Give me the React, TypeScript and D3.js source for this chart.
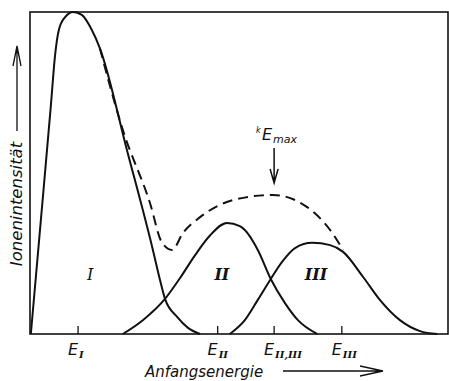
import React from "react";
import * as d3 from "d3";

// curve points as [energy, intensity], both on a 0..100 scale
const peakI: [number, number][] = [
  [0.2, 0], [2.6, 35.4], [5.0, 71.1], [6.0, 86.6], [6.9, 94.4], [8.4, 98.4],
  [10.3, 100], [12.4, 99.1], [14.8, 94.4], [16.7, 88.8], [23.2, 57.1],
  [29.4, 26.1], [31.1, 16.8], [32.3, 10.9], [35.2, 5.3], [37.8, 1.9], [40.7, 0],
];
const peakII: [number, number][] = [
  [22.2, 0], [27.0, 4.3], [32.3, 10.9], [35.9, 17.4], [39.5, 24.5], [43.0, 30.5],
  [47.1, 34.5], [50.2, 33.5], [51.4, 32.3], [54.5, 26.1], [57.6, 17.1],
  [61.0, 9.6], [64.1, 4.3], [68.7, 0],
];
const peakIII: [number, number][] = [
  [47.8, 0], [51.4, 4.3], [54.5, 10.6], [57.6, 17.1], [60.3, 22.4], [63.4, 26.7],
  [67.5, 28.3], [71.8, 27.6], [74.9, 25.5], [79.7, 17.7], [83.7, 10.6],
  [88.5, 4.3], [93.3, 0.9], [97.4, 0],
];
const envelope: [number, number][] = [
  [16.7, 88.8], [22.2, 63.4], [28.7, 40.7], [31.6, 28.3], [34.0, 26.1],
  [36.6, 31.4], [40.7, 36.3], [48.6, 41.6], [58.1, 43.2], [66.3, 39.4],
  [71.8, 32.3], [74.9, 26.1],
];

const tickValues = [11.5, 44.9, 58.4, 74.6];
const tickSubs = ["I", "II", "II,III", "III"];
const regionNames = ["I", "II", "III"];
const regionAt: [number, number][] = [[14.4, 16.8], [45.9, 16.8], [68.4, 16.8]];
// tip of the kEmax arrow
const emaxAt: [number, number] = [58.4, 46.9];

const W = 449;
const H = 381;
const sans = "DejaVu Sans, sans-serif";
const serif = "DejaVu Serif, serif";

export default function App() {
  const x = d3.scaleLinear().domain([0, 100]).range([30, 448]);
  const y = d3.scaleLinear().domain([0, 100]).range([334, 12]);
  const line = d3
    .line<[number, number]>()
    .x((d) => x(d[0]))
    .y((d) => y(d[1]))
    .curve(d3.curveMonotoneX);

  const ex = x(emaxAt[0]);
  const ey = y(emaxAt[1]);

  return (
    <svg
      width={W}
      height={H}
      style={{ position: "absolute", left: 0, top: 0, background: "#fff" }}
    >
      <rect x={x(0)} y={y(100)} width={x(100) - x(0)} height={y(0) - y(100)}
        fill="none" stroke="#111" strokeWidth={1.6} />

      {tickValues.map((t, i) => (
        <g key={i}>
          <line x1={x(t)} x2={x(t)} y1={y(0)} y2={y(0) - 8} stroke="#111" strokeWidth={1.3} />
          <text x={x(t)} y={355} fontFamily={sans} fontStyle="italic" fontSize={16} fill="#111"
            textAnchor="end">E</text>
          <text x={x(t) + 1} y={358} fontFamily={serif} fontWeight="bold" fontStyle="italic"
            fontSize={10} fill="#111">{tickSubs[i]}</text>
        </g>
      ))}

      {[peakI, peakII, peakIII].map((p, i) => (
        <path key={i} d={line(p) ?? ""} fill="none" stroke="#111" strokeWidth={2} />
      ))}
      <path d={line(envelope) ?? ""} fill="none" stroke="#111" strokeWidth={2}
        strokeDasharray="10,6" />

      {regionNames.map((r, i) => (
        <text key={r} x={x(regionAt[i][0])} y={y(regionAt[i][1])} textAnchor="middle"
          fontFamily={serif} fontStyle="italic" fontWeight={i === 0 ? "normal" : "bold"}
          fontSize={16} fill="#111">{r}</text>
      ))}

      {/* kEmax annotation */}
      <text x={ex - 18} y={ey - 50} fontFamily={sans} fontStyle="italic" fontSize={8} fill="#111">k</text>
      <text x={ex - 12} y={ey - 43} fontFamily={sans} fontStyle="italic" fontSize={16} fill="#111">E</text>
      <text x={ex - 1} y={ey - 40} fontFamily={sans} fontStyle="italic" fontSize={11} fill="#111">max</text>
      <path d={`M${ex},${ey - 35} V${ey - 1} M${ex - 4},${ey - 14} L${ex},${ey} L${ex + 4},${ey - 14}`}
        fill="none" stroke="#111" strokeWidth={1.5} />

      {/* axis titles */}
      <text x={145} y={377} fontFamily={sans} fontStyle="italic" fontSize={15} fill="#111">
        Anfangsenergie
      </text>
      <path d="M283,371 H383 M360,366 L383,371 L360,376" fill="none" stroke="#111" strokeWidth={1.3} />

      <text transform="translate(22,204) rotate(-90)" textAnchor="middle" fontFamily={sans}
        fontStyle="italic" fontSize={16.5} fill="#111">Ionenintensität</text>
      <path d="M17,131 V46 M13,66 L17,46 L21,66" fill="none" stroke="#111" strokeWidth={1.3} />
    </svg>
  );
}
